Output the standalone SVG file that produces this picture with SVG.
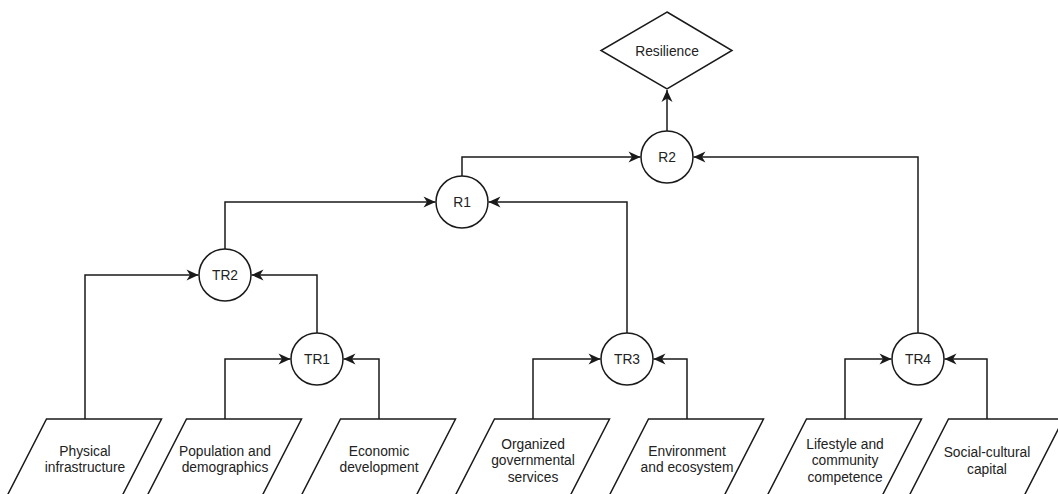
<svg xmlns="http://www.w3.org/2000/svg" width="1058" height="494" viewBox="0 0 1058 494">
<defs>
<marker id="arr" markerUnits="userSpaceOnUse" markerWidth="16" markerHeight="14" viewBox="-14 -7 16 14" refX="0" refY="0" orient="auto">
<path d="M0,0 L-12,-5.5 L-8.5,0 L-12,5.5 Z" fill="#1a1a1a" stroke="none"/>
</marker>
</defs>
<style>
.s{fill:#fff;stroke:#1a1a1a;stroke-width:1.5}
.c{fill:none;stroke:#1a1a1a;stroke-width:1.5;marker-end:url(#arr)}
text{font-family:"Liberation Sans",Arial,sans-serif;font-size:13.8px;fill:#222;text-anchor:middle}
</style>
<rect width="1058" height="494" fill="#fff"/>
<g id="connectors">
<path class="c" d="M667,131 L667,90"/>
<path class="c" d="M462,176 L462,157 L640.5,157"/>
<path class="c" d="M918,333 L918,157 L693.5,157"/>
<path class="c" d="M225,249 L225,202 L435.5,202"/>
<path class="c" d="M627,333 L627,202 L488.5,202"/>
<path class="c" d="M85,419 L85,275 L198.5,275"/>
<path class="c" d="M317,333 L317,275 L251.5,275"/>
<path class="c" d="M225,419 L225,359 L290.5,359"/>
<path class="c" d="M379,419 L379,359 L343.5,359"/>
<path class="c" d="M533,419 L533,359 L600.5,359"/>
<path class="c" d="M687,419 L687,359 L653.5,359"/>
<path class="c" d="M845,419 L845,359 L891.5,359"/>
<path class="c" d="M987,419 L987,359 L944.5,359"/>
</g>
<g id="resilience">
<polygon class="s" points="667,12 732,50.5 667,89 601,50.5"/>
<text x="667" y="55.5">Resilience</text>
</g>
<g id="r2"><circle class="s" cx="667" cy="157" r="26"/><text x="667" y="162">R2</text></g>
<g id="r1"><circle class="s" cx="462" cy="202" r="26"/><text x="462" y="207">R1</text></g>
<g id="tr2"><circle class="s" cx="225" cy="275" r="26"/><text x="225" y="280">TR2</text></g>
<g id="tr1"><circle class="s" cx="317" cy="359" r="26"/><text x="317" y="364">TR1</text></g>
<g id="tr3"><circle class="s" cx="627" cy="359" r="26"/><text x="627" y="364">TR3</text></g>
<g id="tr4"><circle class="s" cx="918" cy="359" r="26"/><text x="918" y="364">TR4</text></g>
<g id="physical">
<polygon class="s" points="46.5,419 161.5,419 121.5,497 6.5,497"/>
<text x="85" y="455.5">Physical</text><text x="85" y="472">infrastructure</text>
</g>
<g id="population">
<polygon class="s" points="186.5,419 301.5,419 261.5,497 146.5,497"/>
<text x="225" y="455.5">Population and</text><text x="225" y="472">demographics</text>
</g>
<g id="economic">
<polygon class="s" points="340.5,419 455.5,419 415.5,497 300.5,497"/>
<text x="379" y="455.5">Economic</text><text x="379" y="472">development</text>
</g>
<g id="organized">
<polygon class="s" points="494.5,419 609.5,419 569.5,497 454.5,497"/>
<text x="533" y="448.5">Organized</text><text x="533" y="465">governmental</text><text x="533" y="481.5">services</text>
</g>
<g id="environment">
<polygon class="s" points="648.5,419 763.5,419 723.5,497 608.5,497"/>
<text x="687" y="455.5">Environment</text><text x="687" y="472">and ecosystem</text>
</g>
<g id="lifestyle">
<polygon class="s" points="806.5,419 921.5,419 881.5,497 766.5,497"/>
<text x="845" y="448.5">Lifestyle and</text><text x="845" y="465">community</text><text x="845" y="481.5">competence</text>
</g>
<g id="social">
<polygon class="s" points="948.5,419 1063.5,419 1023.5,497 908.5,497"/>
<text x="987" y="457">Social-cultural</text><text x="987" y="473.5">capital</text>
</g>
</svg>
